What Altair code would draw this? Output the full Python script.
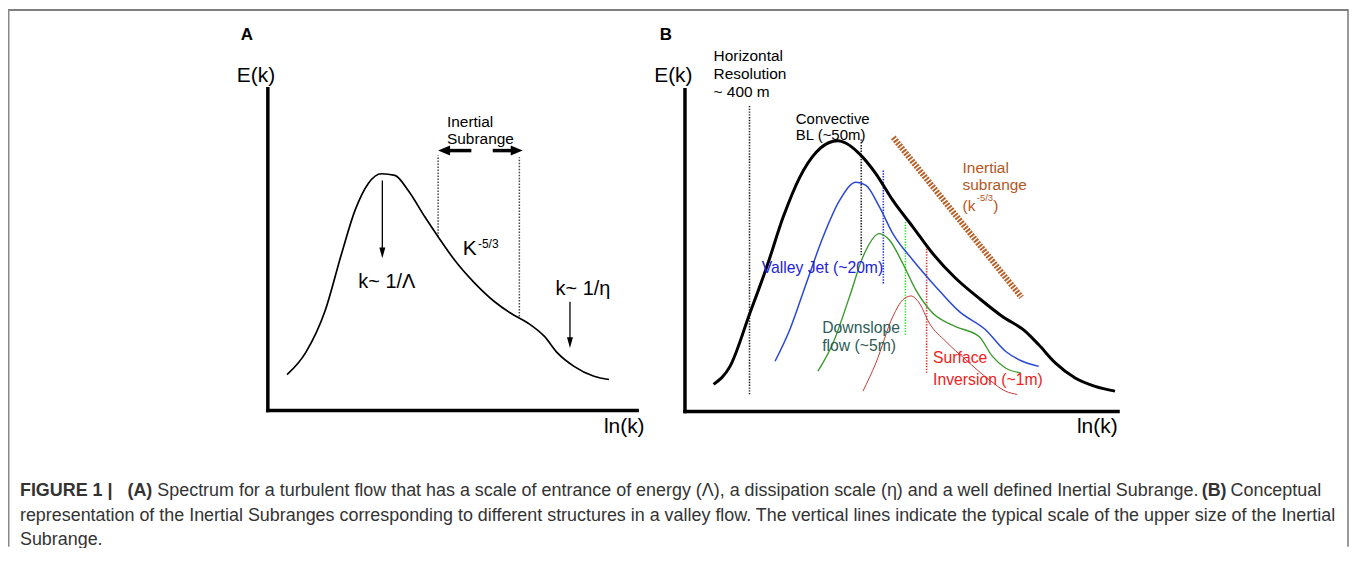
import altair as alt
import pandas as pd

W, H = 1348, 540
FONT = "Liberation Sans"

# ---------------- Panel A : spectrum (arbitrary units 0-100) ----------------
a_x = [5.2, 10.2, 15.6, 20.0, 23.6, 27.2, 30.8, 34.4, 38.0, 42.5, 46.1, 50.6,
       56.0, 61.4, 65.8, 70.4, 74.9, 78.4, 82.9, 88.3, 92.4]
a_y = [11.1, 17.9, 31.3, 48.9, 62.2, 70.6, 73.6, 73.1, 68.4, 60.2, 54.0, 46.7,
       39.6, 33.8, 30.2, 27.2, 23.0, 17.9, 13.7, 10.6, 9.6]

# inertial subrange bounds (dotted verticals)
a_vx = [46.1, 68.1]
a_vy1 = [54.0, 29.2]
a_vy2 = [79.3, 78.7]

# thin down arrows (x, y start, y tip)
a_arrow_x = [31.0, 81.8]
a_arrow_y0 = [71.5, 33.8]
a_arrow_tip = [47.3, 19.4]

# thick horizontal arrows (start, tip) at height
a_harrow_x0 = [55.1, 60.9]
a_harrow_tip = [46.1, 69.0]
a_harrow_y = [80.8, 80.8]

a_texts = ["Inertial", "Subrange"]
a_text_x = [48.5, 48.5]
a_text_y = [89.6, 84.4]

a_big_texts = ["k~ 1/\u039b", "k~ 1/\u03b7"]
a_big_x = [24.5, 77.9]
a_big_y = [40.0, 37.6]

# ---------------- Panel B : valley-flow spectra ----------------
b_black_x = [6.6, 10.4, 15.0, 18.9, 22.7, 26.5, 30.3, 34.2, 35.3, 37.2, 40.3, 44.1,
             48.0, 52.6, 57.2, 62.5, 67.9, 73.3, 78.6, 81.7, 85.5, 90.1, 94.7, 99.3]
b_black_y = [8.4, 14.0, 30.6, 45.0, 60.5, 72.8, 80.6, 84.0, 84.2, 83.4, 80.1, 73.9,
             65.6, 57.4, 49.1, 41.4, 35.2, 29.5, 24.9, 20.7, 15.1, 10.4, 7.8, 6.3]
b_blue_x = [20.8, 24.2, 28.0, 31.9, 35.7, 39.5, 41.8, 44.9, 48.0, 52.6, 57.9, 63.3,
            69.4, 74.0, 77.9, 81.7]
b_blue_y = [15.6, 25.4, 39.8, 54.3, 65.6, 71.3, 70.3, 63.6, 55.3, 47.1, 38.8, 31.1,
            25.4, 18.7, 15.6, 14.0]
b_green_x = [30.7, 34.2, 38.0, 41.1, 44.9, 47.2, 50.3, 53.3, 57.2, 62.5, 67.9, 71.0,
             74.0, 77.5]
b_green_y = [12.5, 21.3, 35.7, 48.1, 55.3, 53.3, 46.0, 37.8, 30.6, 26.4, 23.3, 17.1,
             13.5, 12.0]
b_red_x = [41.1, 44.1, 48.0, 50.3, 52.2, 54.1, 56.4, 60.2, 64.8, 70.2, 74.0, 76.7]
b_red_y = [6.3, 15.1, 29.5, 34.7, 35.9, 33.7, 27.5, 21.8, 16.1, 9.9, 6.3, 5.3]

# scale markers (dotted verticals): resolution, CBL, valley jet, downslope, inversion
b_vx = [14.9, 40.7, 45.8, 50.9, 55.8]
b_vy1 = [5.3, 48.6, 39.8, 23.8, 12.0]
b_vy2 = [95.0, 84.8, 74.9, 58.9, 51.7]

# inertial subrange slope line
b_slope_x = [48.1]
b_slope_y = [85.2]
b_slope_x2 = [77.7]
b_slope_y2 = [35.5]

# ---------------- Caption ----------------
cap_bold_1 = "FIGURE 1 |"
cap_bold_a = "(A)"
cap_line_1 = ("Spectrum for a turbulent flow that has a scale of entrance of energy (\u039b), "
              "a dissipation scale (\u03b7) and a well defined Inertial Subrange.")
cap_bold_b = "(B)"
cap_line_1b = "Conceptual"
cap_line_2 = ("representation of the Inertial Subranges corresponding to different structures "
              "in a valley flow. The vertical lines indicate the typical scale of the upper size of the Inertial")
cap_line_3 = "Subrange."

# ---------------- scales ----------------
xA = alt.Scale(domain=[0, 100], range=[261, 632], nice=False, zero=False)
yA = alt.Scale(domain=[0, 100], range=[403, 80], nice=False, zero=False)
xB = alt.Scale(domain=[0, 100], range=[680, 1115], nice=False, zero=False)
yB = alt.Scale(domain=[0, 100], range=[404, 81], nice=False, zero=False)


def X(f, s):
    return alt.X(f, type="quantitative", scale=s, axis=None)


def Y(f, s):
    return alt.Y(f, type="quantitative", scale=s, axis=None)


def line(xs, ys, sx, sy, **kw):
    df = pd.DataFrame({"x": xs, "y": ys})
    return alt.Chart(df).mark_line(interpolate="monotone", **kw).encode(
        x=X("x", sx), y=Y("y", sy))


def vrules(xs, y1, y2, sx, sy, **kw):
    df = pd.DataFrame({"x": xs, "y": y1, "y2": y2})
    return alt.Chart(df).mark_rule(**kw).encode(
        x=X("x", sx), y=Y("y", sy), y2="y2")


def texts(ts, xs, ys, sx, sy, **kw):
    df = pd.DataFrame({"t": ts, "x": xs, "y": ys})
    base = dict(font=FONT, baseline="middle", align="left", color="black")
    base.update(kw)
    return alt.Chart(df).mark_text(**base).encode(
        x=X("x", sx), y=Y("y", sy), text="t:N")


def axes(sx, sy, xmax, ymax):
    df = pd.DataFrame({"x": [0, 0], "y": [0, 0], "x2": [0, xmax], "y2": [ymax, 0]})
    return alt.Chart(df).mark_rule(color="black", strokeWidth=3.5, strokeCap="square").encode(
        x=X("x", sx), y=Y("y", sy), x2="x2", y2="y2")


# ---------------- Panel A layers ----------------
down_tip = "M-1,-3.6L1,-3.6L0,0Z"
left_tip = "M0,0L2.4,-1L2.4,1Z"
right_tip = "M0,0L-2.4,-1L-2.4,1Z"

arrA = pd.DataFrame({"x": a_arrow_x, "y": a_arrow_y0, "tip": a_arrow_tip})
harrA = pd.DataFrame({"x": a_harrow_x0, "tip": a_harrow_tip, "y": a_harrow_y})

panelA = alt.layer(
    axes(xA, yA, 100, 100),
    vrules(a_vx, a_vy1, a_vy2, xA, yA, color="#444444", strokeWidth=1.5, strokeDash=[1.5, 1.5]),
    line(a_x, a_y, xA, yA, color="black", strokeWidth=1.7),
    alt.Chart(arrA).transform_calculate(yend="datum.tip + 3").mark_rule(color="black", strokeWidth=1.3).encode(
        x=X("x", xA), y=Y("y", yA), y2="yend:Q"),
    alt.Chart(arrA).mark_point(shape=down_tip, filled=True, size=36, color="black", opacity=1).encode(
        x=X("x", xA), y=Y("tip", yA)),
    alt.Chart(harrA).transform_calculate(
        xend="datum.tip + (datum.x > datum.tip ? 2.6 : -2.6)").mark_rule(color="black", strokeWidth=3.5).encode(
        x=X("x", xA), x2="xend:Q", y=Y("y", yA)),
    alt.Chart(harrA).transform_filter("datum.x > datum.tip").mark_point(
        shape=left_tip, filled=True, size=100, color="black", opacity=1).encode(
        x=X("tip", xA), y=Y("y", yA)),
    alt.Chart(harrA).transform_filter("datum.x < datum.tip").mark_point(
        shape=right_tip, filled=True, size=100, color="black", opacity=1).encode(
        x=X("tip", xA), y=Y("y", yA)),
    texts(a_texts, a_text_x, a_text_y, xA, yA, fontSize=15.5),
    texts(a_big_texts, a_big_x, a_big_y, xA, yA, fontSize=20),
    texts(["K"], [52.8], [50.2], xA, yA, fontSize=21),
    texts(["-5/3"], [56.9], [51.6], xA, yA, fontSize=12),
    texts(["E(k)"], [-8.4], [103.9], xA, yA, fontSize=21),
    texts(["ln(k)"], [102.0], [-5.3], xA, yA, fontSize=21, align="right"),
    texts(["A"], [-5.7], [116.7], xA, yA, fontSize=17, fontWeight="bold", align="center"),
)

# ---------------- Panel B layers ----------------
slope = pd.DataFrame({"x": b_slope_x, "y": b_slope_y, "x2": b_slope_x2, "y2": b_slope_y2})

panelB = alt.layer(
    axes(xB, yB, 100, 100),
    vrules(b_vx[:2], b_vy1[:2], b_vy2[:2], xB, yB, color="#222222", strokeWidth=1.6, strokeDash=[1.4, 1.4]),
    vrules(b_vx[2:3], b_vy1[2:3], b_vy2[2:3], xB, yB, color="#2233dd", strokeWidth=1.6, strokeDash=[1.4, 1.4]),
    vrules(b_vx[3:4], b_vy1[3:4], b_vy2[3:4], xB, yB, color="#33dd33", strokeWidth=1.6, strokeDash=[1.4, 1.4]),
    vrules(b_vx[4:5], b_vy1[4:5], b_vy2[4:5], xB, yB, color="#ee3333", strokeWidth=1.6, strokeDash=[1.4, 1.4]),
    alt.Chart(slope).mark_rule(color="#b8622a", strokeWidth=6, strokeDash=[2, 1.3]).encode(
        x=X("x", xB), y=Y("y", yB), x2="x2", y2="y2"),
    line(b_red_x, b_red_y, xB, yB, color="#c23a35", strokeWidth=1.0),
    line(b_green_x, b_green_y, xB, yB, color="#3a9a2c", strokeWidth=1.4),
    line(b_blue_x, b_blue_y, xB, yB, color="#2a48d8", strokeWidth=1.5),
    line(b_black_x, b_black_y, xB, yB, color="black", strokeWidth=3),
    texts(["Horizontal", "Resolution", "~ 400 m"], [6.6, 6.6, 6.6], [110.5, 104.9, 99.4], xB, yB, fontSize=15.5),
    texts(["Convective", "BL (~50m)"], [25.6, 25.6], [90.9, 85.8], xB, yB, fontSize=15),
    texts(["Inertial", "subrange"], [64.1, 64.1], [75.6, 70.3], xB, yB,
          fontSize=15.5, color="#b4561e"),
    texts(["(k"], [64.1], [64.0], xB, yB, fontSize=15.5, color="#b4561e"),
    texts(["-5/3"], [67.4], [66.3], xB, yB, fontSize=9.5, color="#b4561e"),
    texts([")"], [71.2], [64.0], xB, yB, fontSize=15.5, color="#b4561e"),
    texts(["Valley Jet (~20m)"], [17.7], [44.5], xB, yB, fontSize=15.8, color="#2222dd"),
    texts(["Downslope", "flow (~5m)"], [31.7, 31.7], [25.9, 20.4], xB, yB, fontSize=15.8, color="#2f5c54"),
    texts(["Surface", "Inversion (~1m)"], [57.3, 57.3], [16.6, 9.9], xB, yB, fontSize=15.8, color="#ee2222"),
    texts(["E(k)"], [-7.1], [104.3], xB, yB, fontSize=21),
    texts(["ln(k)"], [99.9], [-5.0], xB, yB, fontSize=21, align="right"),
    texts(["B"], [-4.4], [117.0], xB, yB, fontSize=17, fontWeight="bold", align="center"),
)

# ---------------- caption & frame ----------------
def cap(t, px, py, bold=False):
    df = pd.DataFrame({"t": [t]})
    return alt.Chart(df).mark_text(font=FONT, fontSize=18, align="left", baseline="middle",
                                   color="#333333", fontWeight="bold" if bold else "normal").encode(
        x=alt.value(px), y=alt.value(py), text="t:N")


caption = alt.layer(
    cap(cap_bold_1, 12, 484, True),
    cap(cap_bold_a, 120, 484, True),
    cap(cap_line_1, 150, 484),
    cap(cap_bold_b, 1199, 484, True),
    cap(cap_line_1b, 1228, 484),
    cap(cap_line_2, 12, 509),
    cap(cap_line_3, 12, 533),
)

frame_df = pd.DataFrame({"k": [0]})
frame = alt.layer(
    alt.Chart(frame_df).mark_rule(color="#555555", strokeWidth=1.5).encode(
        x=alt.value(0), x2=alt.value(1346), y=alt.value(0.75)),
    alt.Chart(frame_df).mark_rule(color="#888888", strokeWidth=1.5).encode(
        x=alt.value(0.75), y=alt.value(0), y2=alt.value(H)),
    alt.Chart(frame_df).mark_rule(color="#777777", strokeWidth=1.5).encode(
        x=alt.value(1346), y=alt.value(0), y2=alt.value(H)),
)

chart = alt.layer(panelA, panelB, caption, frame).resolve_scale(
    x="independent", y="independent"
).properties(
    width=W, height=H, padding=0, autosize="none", background="white"
).configure_view(stroke=None)

chart.save("out.html", embed_options={"renderer": "svg", "actions": False})
